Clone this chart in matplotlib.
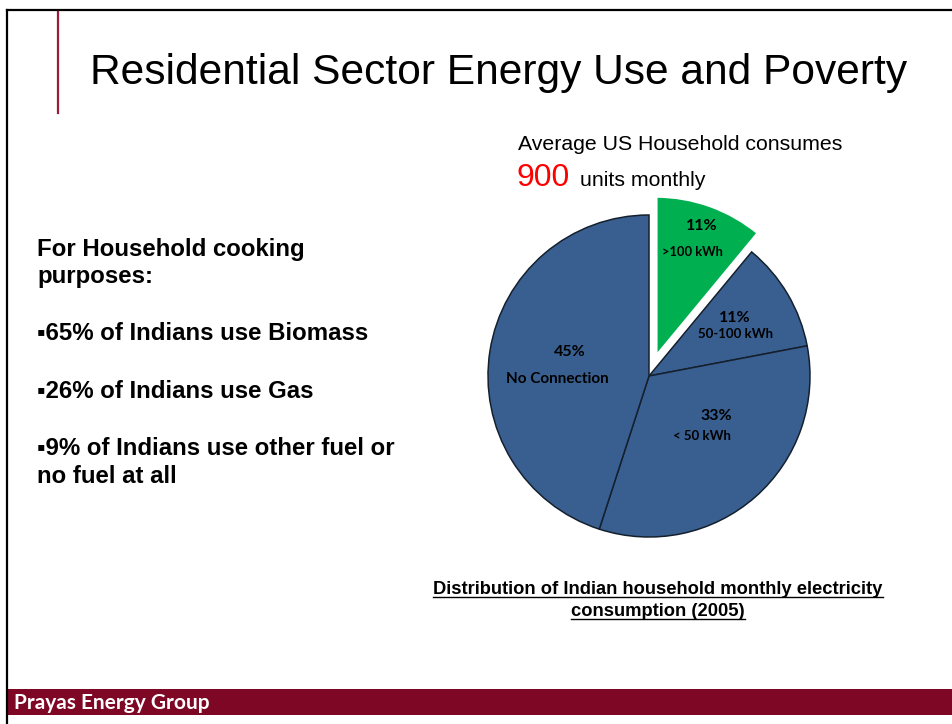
import matplotlib
matplotlib.use("Agg")
import matplotlib.pyplot as plt
from matplotlib.lines import Line2D
from matplotlib.patches import Rectangle
import numpy as np

# ---------------- data ----------------
categories = [">100 kWh", "50-100 kWh", "< 50 kWh", "No Connection"]
shares = [11, 11, 33, 45]
pct_labels = ["11%", "11%", "33%", "45%"]
highlight = [True, False, False, False]

bullets = [
    "\u25aa65% of Indians use Biomass",
    "\u25aa26% of Indians use Gas",
    "\u25aa9% of Indians use other fuel or",
]

W, H = 953, 724
fig = plt.figure(figsize=(W / 100, H / 100), dpi=100)
fig.patch.set_facecolor("white")

def fx(px):
    return px / W

def fy(py):
    return 1 - py / H

SANS = ["Liberation Sans", "DejaVu Sans"]
LBL = ["Lato", "DejaVu Sans"]
BLUE = "#395F91"
GREEN = "#00B050"
MAROON = "#7E0725"

# ---------------- frame ----------------
fig.add_artist(Line2D([fx(7), fx(953)], [fy(10), fy(10)], color="black", lw=1.6))
fig.add_artist(Line2D([fx(7), fx(7)], [fy(10), fy(724)], color="black", lw=1.6))
fig.add_artist(Line2D([fx(58), fx(58)], [fy(12), fy(113)], color="#9B1B3A", lw=1.6))

# footer bar
fig.add_artist(Rectangle((fx(8), fy(715)), fx(945), (715 - 689) / H,
                         transform=fig.transFigure, facecolor=MAROON, edgecolor="none"))
fig.text(fx(14), fy(709), "Prayas Energy Group", color="white", fontsize=15,
         fontweight="bold", family=LBL, va="baseline", ha="left")

# ---------------- title ----------------
fig.text(fx(90), fy(84), "Residential Sector Energy Use and Poverty", fontsize=30.6,
         family=SANS, va="baseline", ha="left", color="black")

# ---------------- left text ----------------
left_lines = [("For Household cooking", 256), ("purposes:", 283),
              (bullets[0], 340), (bullets[1], 398), (bullets[2], 455),
              ("no fuel at all", 483)]
for txt, by in left_lines:
    fig.text(fx(37), fy(by), txt, fontsize=17.3, fontweight="bold", family=SANS,
             va="baseline", ha="left")

# ---------------- US household text ----------------
fig.text(fx(518), fy(150), "Average US Household consumes", fontsize=15.3,
         family=SANS, va="baseline", ha="left")
fig.text(fx(517), fy(186), "900", fontsize=23, color="#FF0000",
         family=SANS, va="baseline", ha="left")
fig.text(fx(580), fy(186), "units monthly", fontsize=15.3,
         family=SANS, va="baseline", ha="left")

# ---------------- pie ----------------
cx, cy, r = 649, 376, 161
ax = fig.add_axes([fx(cx - r), fy(cy + r), 2 * r / W, 2 * r / H])
colors = [GREEN if h else BLUE for h in highlight]
explode = [0.125 if h else 0 for h in highlight]
wedges, _ = ax.pie(shares, colors=colors, explode=explode, startangle=90,
                   counterclock=False, radius=1,
                   wedgeprops=dict(edgecolor="#15202e", linewidth=1.1))
for w, h in zip(wedges, highlight):
    if h:
        w.set_edgecolor("white")
        w.set_linewidth(2.5)
ax.set_xlim(-1, 1)
ax.set_ylim(-1, 1)
ax.set_aspect("equal")
ax.axis("off")

# label offsets (data coords of pie axes)
label_pos = {
    ">100 kWh": ((0.33, 0.93), (0.27, 0.77), 11.5, 9.3),
    "50-100 kWh": ((0.53, 0.36), (0.54, 0.26), 11.5, 9.5),
    "< 50 kWh": ((0.42, -0.25), (0.33, -0.37), 11.5, 9.5),
    "No Connection": ((-0.49, 0.15), (-0.57, -0.02), 11.5, 11),
}
for cat, pct in zip(categories, pct_labels):
    (px1, py1), (px2, py2), fs1, fs2 = label_pos[cat]
    ax.text(px1, py1, pct, ha="center", va="center", fontsize=fs1, fontweight="bold",
            family=LBL, color="black")
    ax.text(px2, py2, cat, ha="center", va="center", fontsize=fs2, fontweight="bold",
            family=LBL, color="black")

# ---------------- caption (underlined) ----------------
cap_lines = [("Distribution of Indian household monthly electricity", 594),
             ("consumption (2005)", 616)]
cap_texts = []
for txt, by in cap_lines:
    t = fig.text(fx(658), fy(by), txt, fontsize=13.2, fontweight="bold", family=SANS,
                 va="baseline", ha="center")
    cap_texts.append((t, by))

fig.canvas.draw()
renderer = fig.canvas.get_renderer()
for t, by in cap_texts:
    bb = t.get_window_extent(renderer)
    x0, x1 = bb.x0 / W, bb.x1 / W
    fig.add_artist(Line2D([x0, x1], [fy(by + 2.5), fy(by + 2.5)], color="black", lw=1.0))

fig.savefig("out.png", dpi=100, facecolor="white")
